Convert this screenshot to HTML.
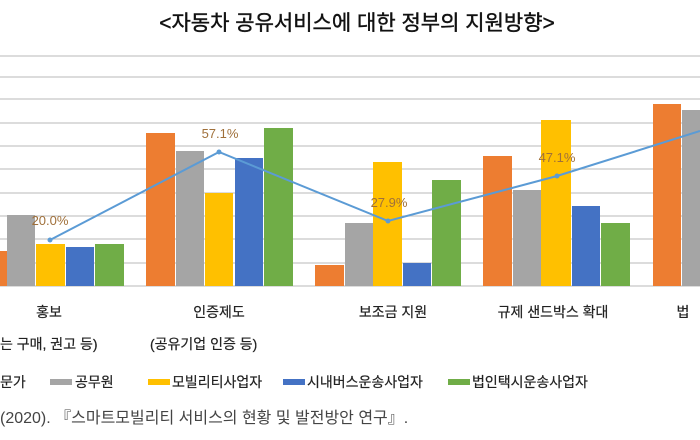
<!DOCTYPE html>
<html><head><meta charset="utf-8"><style>
body{margin:0;background:#fff;}
svg{display:block;}
text{font-family:"Liberation Sans","Noto Sans CJK KR","NanumGothic",sans-serif;}
</style></head><body>
<svg width="700" height="440" viewBox="0 0 700 440" xmlns="http://www.w3.org/2000/svg">
<rect width="700" height="440" fill="#fff"/>
<text x="357" y="30" font-size="21" text-anchor="middle" fill="#111" stroke="#111" stroke-width="0.4">&lt;자동차 공유서비스에 대한 정부의 지원방향&gt;</text>
<g stroke="#c8c8c8" stroke-width="1.3">
<line x1="0" y1="56" x2="700" y2="56"/>
<line x1="0" y1="77" x2="700" y2="77"/>
<line x1="0" y1="99" x2="700" y2="99"/>
<line x1="0" y1="123" x2="700" y2="123"/>
<line x1="0" y1="146" x2="700" y2="146"/>
<line x1="0" y1="169" x2="700" y2="169"/>
<line x1="0" y1="193" x2="700" y2="193"/>
<line x1="0" y1="216" x2="700" y2="216"/>
<line x1="0" y1="239" x2="700" y2="239"/>
<line x1="0" y1="263" x2="700" y2="263"/>
<line x1="0" y1="286" x2="700" y2="286"/>
</g>
<g>
<rect x="0" y="251" width="7" height="35" fill="#ED7D31"/>
<rect x="7" y="215" width="28" height="71" fill="#A5A5A5"/>
<rect x="36" y="244" width="29" height="42" fill="#FFC000"/>
<rect x="66" y="247" width="28" height="39" fill="#4472C4"/>
<rect x="95" y="244" width="29" height="42" fill="#70AD47"/>

<rect x="146" y="133" width="29" height="153" fill="#ED7D31"/>
<rect x="176" y="151" width="28" height="135" fill="#A5A5A5"/>
<rect x="205" y="193" width="28" height="93" fill="#FFC000"/>
<rect x="235" y="158" width="28" height="128" fill="#4472C4"/>
<rect x="264" y="128" width="29" height="158" fill="#70AD47"/>

<rect x="315" y="265" width="29" height="21" fill="#ED7D31"/>
<rect x="345" y="223" width="28" height="63" fill="#A5A5A5"/>
<rect x="373" y="162" width="29" height="124" fill="#FFC000"/>
<rect x="403" y="263" width="28" height="23" fill="#4472C4"/>
<rect x="432" y="180" width="29" height="106" fill="#70AD47"/>

<rect x="483" y="156" width="29" height="130" fill="#ED7D31"/>
<rect x="513" y="190" width="28" height="96" fill="#A5A5A5"/>
<rect x="541" y="120" width="30" height="166" fill="#FFC000"/>
<rect x="572" y="206" width="28" height="80" fill="#4472C4"/>
<rect x="601" y="223" width="29" height="63" fill="#70AD47"/>

<rect x="653" y="104" width="28" height="182" fill="#ED7D31"/>
<rect x="682" y="110" width="18" height="176" fill="#A5A5A5"/>
</g>
<polyline points="50,240 219,152 388,221 557,176 700,131" fill="none" stroke="#5B9BD5" stroke-width="2"/>
<g fill="#5B9BD5"><circle cx="50" cy="240" r="2.5"/><circle cx="219" cy="152" r="2.5"/><circle cx="388" cy="221" r="2.5"/><circle cx="557" cy="176" r="2.5"/></g>
<g font-size="13" fill="#a0703a" text-anchor="middle">
<text x="50" y="225">20.0%</text>
<text x="220" y="138">57.1%</text>
<text x="389" y="207">27.9%</text>
<text x="557" y="162">47.1%</text>
</g>
<g font-size="14" fill="#222" text-anchor="middle" stroke="#222" stroke-width="0.2">
<text x="49" y="317">홍보</text>
<text x="219" y="317">인증제도</text>
<text x="393" y="317">보조금 지원</text>
<text x="553" y="317">규제 샌드박스 확대</text>
<text x="683" y="317">법</text>
</g>
<g font-size="14" fill="#222" stroke="#222" stroke-width="0.2">
<text x="0" y="349">는 구매, 권고 등)</text>
<text x="150" y="349">(공유기업 인증 등)</text>
</g>
<g font-size="14" fill="#222" stroke="#222" stroke-width="0.2">
<text x="0" y="387">문가</text>
<rect x="50" y="379" width="22" height="6" fill="#A5A5A5" stroke="none"/>
<text x="75" y="387">공무원</text>
<rect x="148" y="379" width="22" height="6" fill="#FFC000" stroke="none"/>
<text x="172" y="387">모빌리티사업자</text>
<rect x="283" y="379" width="22" height="6" fill="#4472C4" stroke="none"/>
<text x="307" y="387">시내버스운송사업자</text>
<rect x="448" y="379" width="22" height="6" fill="#70AD47" stroke="none"/>
<text x="472" y="387">법인택시운송사업자</text>
</g>
<text x="0" y="423" font-size="16" fill="#444">(2020). 『스마트모빌리티 서비스의 현황 및 발전방안 연구』.</text>
</svg>
</body></html>
